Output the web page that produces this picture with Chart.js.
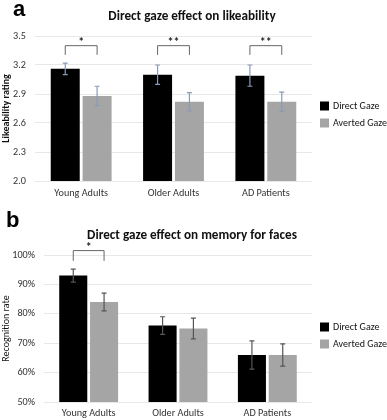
<!DOCTYPE html>
<html>
<head>
<meta charset="utf-8">
<script src="https://cdn.jsdelivr.net/npm/chart.js@4"></script>
<style>
  html,body{margin:0;padding:0;background:#fff;}
  #wrap{position:relative;width:387px;height:420px;overflow:hidden;}
  .box{position:absolute;left:0;width:387px;}
  .lab{position:absolute;font-family:"Liberation Sans",Arial,sans-serif;font-weight:bold;font-size:22px;color:#000;line-height:22px;}
</style>
</head>
<body>
<div id="wrap">
  <div class="box" style="top:0;height:205px;"><canvas id="ca" width="387" height="205"></canvas></div>
  <div class="box" style="top:205px;height:215px;"><canvas id="cb" width="387" height="215"></canvas></div>
  <div class="lab" style="left:13px;top:-2px;">a</div>
  <div class="lab" style="left:6px;top:209px;">b</div>
</div>
<script>
// ---------- DATA ----------
const categories = ['Young Adults', 'Older Adults', 'AD Patients'];
const seriesNames = ['Direct Gaze', 'Averted Gaze'];

// Panel a: likeability rating
const likeDirect = [3.16, 3.10, 3.09];
const likeDirectErr = [0.06, 0.10, 0.11];
const likeAverted = [2.88, 2.82, 2.82];
const likeAvertedErr = [0.10, 0.095, 0.10];
const likeTicks = [2.0, 2.3, 2.6, 2.9, 3.2, 3.5];
const likeSig = ['*', '**', '**'];

// Panel b: recognition rate (%)
const memDirect = [93, 76, 66];
const memDirectErr = [2.2, 3, 4.8];
const memAverted = [84, 75, 66];
const memAvertedErr = [3, 3.5, 3.8];
const memTicks = [50, 60, 70, 80, 90, 100];
const memSig = ['*', '', ''];

// ---------- STYLE ----------
const FONT = 'Carlito, Lato, sans-serif';
const colDirect = '#000000';
const colAverted = '#a5a5a5';
const tickColor = '#333333';

const errorBarsPlugin = {
  id: 'errorBars',
  afterDatasetsDraw(chart, args, opts) {
    const ctx = chart.ctx;
    const ys = chart.scales.y;
    chart.data.datasets.forEach((ds, i) => {
      const meta = chart.getDatasetMeta(i);
      meta.data.forEach((el, j) => {
        const v = ds.data[j], e = ds.errors[j];
        const yt = ys.getPixelForValue(v + e), yb = ys.getPixelForValue(v - e);
        ctx.save();
        ctx.strokeStyle = opts.color;
        ctx.lineWidth = 1.2;
        ctx.beginPath();
        ctx.moveTo(el.x, yt); ctx.lineTo(el.x, yb);
        ctx.moveTo(el.x - 2.5, yt); ctx.lineTo(el.x + 2.5, yt);
        ctx.moveTo(el.x - 2.5, yb); ctx.lineTo(el.x + 2.5, yb);
        ctx.stroke();
        ctx.restore();
      });
    });
  }
};

const sigPlugin = {
  id: 'sig',
  afterDatasetsDraw(chart, args, opts) {
    const ctx = chart.ctx;
    const ys = chart.scales.y;
    const m0 = chart.getDatasetMeta(0), m1 = chart.getDatasetMeta(1);
    opts.labels.forEach((lab, j) => {
      if (!lab) return;
      const x0 = m0.data[j].x, x1 = m1.data[j].x;
      const yTop = ys.getPixelForValue(opts.top);
      const yLeg = ys.getPixelForValue(opts.leg);
      ctx.save();
      ctx.strokeStyle = '#666';
      ctx.lineWidth = 1;
      ctx.beginPath();
      ctx.moveTo(x0, yLeg); ctx.lineTo(x0, yTop); ctx.lineTo(x1, yTop); ctx.lineTo(x1, yLeg);
      ctx.stroke();
      ctx.fillStyle = '#222';
      ctx.font = 'bold 12px ' + FONT;
      ctx.textAlign = 'center';
      ctx.textBaseline = 'middle';
      ctx.fillText(lab, (x0 + x1) / 2, yTop - 3);
      ctx.restore();
    });
  }
};

const headerPlugin = {
  id: 'header',
  afterDraw(chart, args, opts) {
    const ctx = chart.ctx;
    ctx.save();
    ctx.fillStyle = '#111';
    ctx.font = 'bold 13.2px ' + FONT;
    ctx.textAlign = 'center';
    ctx.textBaseline = 'middle';
    ctx.fillText(opts.text, opts.x, opts.y);
    ctx.restore();
  }
};

const legendPlugin = {
  id: 'sideLegend',
  afterDraw(chart, args, opts) {
    const ctx = chart.ctx;
    chart.data.datasets.forEach((ds, i) => {
      const cy = opts.y + i * opts.gap;
      ctx.save();
      ctx.fillStyle = ds.backgroundColor;
      ctx.fillRect(opts.x, cy - 4.5, 9, 9);
      ctx.fillStyle = '#111';
      ctx.font = '10px ' + FONT;
      ctx.textAlign = 'left';
      ctx.textBaseline = 'middle';
      ctx.fillText(ds.label, opts.x + 13, cy);
      ctx.restore();
    });
  }
};

function makeChart(id, cfg) {
  return new Chart(document.getElementById(id), {
    type: 'bar',
    data: {
      labels: categories,
      datasets: [
        { label: seriesNames[0], data: cfg.d1, errors: cfg.e1, backgroundColor: colDirect,
          categoryPercentage: 0.69, barPercentage: 0.91 },
        { label: seriesNames[1], data: cfg.d2, errors: cfg.e2, backgroundColor: colAverted,
          categoryPercentage: 0.69, barPercentage: 0.91 }
      ]
    },
    options: {
      responsive: false,
      animation: false,
      layout: { padding: { left: 0, right: 75, top: cfg.areaTop, bottom: 0 } },
      plugins: {
        legend: { display: false },
        tooltip: { enabled: false },
        title: { display: false },
        header: { text: cfg.title, x: 192, y: cfg.titleY },
        errorBars: { color: cfg.errColor },
        sig: { labels: cfg.sig, top: cfg.sigTop, leg: cfg.sigLeg },
        sideLegend: { x: 320, y: cfg.legY, gap: 17 }
      },
      scales: {
        x: {
          afterFit: s => { s.height = cfg.xHeight; },
          grid: { display: false, drawTicks: false },
          border: { display: false },
          ticks: { color: tickColor, font: { family: FONT, size: 10.2 }, padding: cfg.xPad }
        },
        y: {
          min: cfg.ticks[0], max: cfg.ticks[cfg.ticks.length - 1],
          afterBuildTicks: s => { s.ticks = cfg.ticks.map(v => ({ value: v })); },
          afterFit: s => { s.width = cfg.yWidth; },
          grid: { color: '#e8e8e8', drawTicks: false },
          border: { display: false },
          ticks: { color: tickColor, font: { family: FONT, size: 10.2 }, padding: cfg.yPad, callback: cfg.fmt },
          title: { display: true, text: cfg.yTitle, color: '#111',
                   font: { family: FONT, size: 10, weight: cfg.yTitleWeight }, padding: 0 }
        }
      }
    },
    plugins: [errorBarsPlugin, sigPlugin, headerPlugin, legendPlugin]
  });
}

makeChart('ca', {
  d1: likeDirect, e1: likeDirectErr, d2: likeAverted, e2: likeAvertedErr,
  ticks: likeTicks, fmt: v => Number(v).toFixed(1),
  title: 'Direct gaze effect on likeability', titleY: 17, areaTop: 36,
  xHeight: 24, xPad: 6, yWidth: 35, yPad: 9,
  yTitle: 'Likeability rating', yTitleWeight: 'bold',
  errColor: '#8a9cb4', sig: likeSig, sigTop: 3.40, sigLeg: 3.305, legY: 106
});

makeChart('cb', {
  d1: memDirect, e1: memDirectErr, d2: memAverted, e2: memAvertedErr,
  ticks: memTicks, fmt: v => v + '%',
  title: 'Direct gaze effect on memory for faces', titleY: 31, areaTop: 50,
  xHeight: 18, xPad: 5, yWidth: 44, yPad: 9,
  yTitle: 'Recognition rate', yTitleWeight: 'normal',
  errColor: '#555555', sig: memSig, sigTop: 101.5, sigLeg: 98, legY: 122
});
</script>
</body>
</html>
